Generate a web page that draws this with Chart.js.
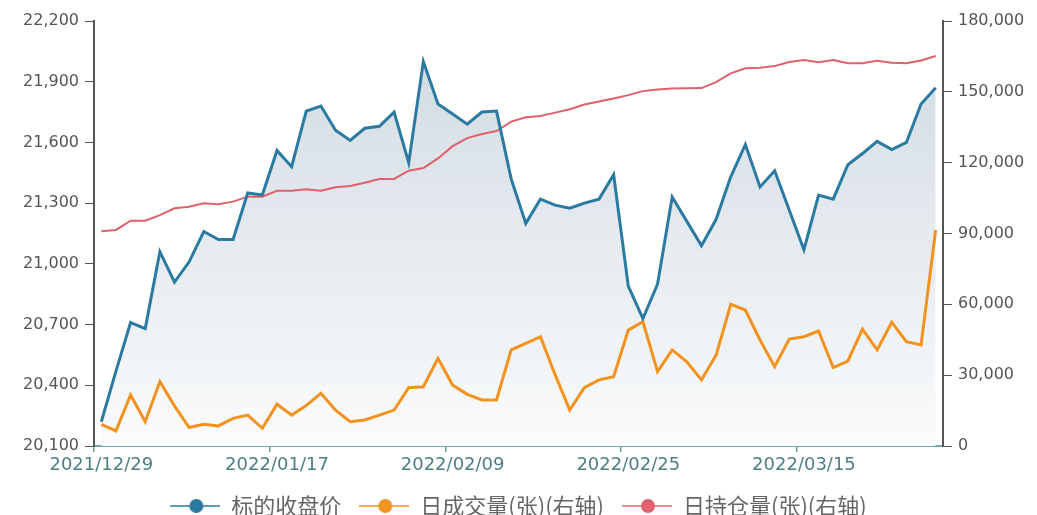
<!DOCTYPE html>
<html>
<head>
<meta charset="utf-8">
<script src="https://cdn.jsdelivr.net/npm/chart.js@4.4.1/dist/chart.umd.min.js"></script>
<style>
    html, body { margin: 0; padding: 0; background: #fff; overflow: hidden; }
    #wrap { position: relative; width: 1037px; height: 527px; }
</style>
</head>
<body>
<div id="wrap"><canvas id="futuresChart"></canvas></div>
<script>
// Trading days, close price and daily volume / open interest (lots)
const tradeDates = [
    '2021/12/29', '2021/12/30', '2021/12/31', '2022/01/04', '2022/01/05', '2022/01/06', '2022/01/07',
    '2022/01/10', '2022/01/11', '2022/01/12', '2022/01/13', '2022/01/14', '2022/01/17', '2022/01/18',
    '2022/01/19', '2022/01/20', '2022/01/21', '2022/01/24', '2022/01/25', '2022/01/26', '2022/01/27',
    '2022/01/28', '2022/02/07', '2022/02/08', '2022/02/09', '2022/02/10', '2022/02/11', '2022/02/14',
    '2022/02/15', '2022/02/16', '2022/02/17', '2022/02/18', '2022/02/21', '2022/02/22', '2022/02/23',
    '2022/02/24', '2022/02/25', '2022/02/28', '2022/03/01', '2022/03/02', '2022/03/03', '2022/03/04',
    '2022/03/07', '2022/03/08', '2022/03/09', '2022/03/10', '2022/03/11', '2022/03/14', '2022/03/15',
    '2022/03/16', '2022/03/17', '2022/03/18', '2022/03/21', '2022/03/22', '2022/03/23', '2022/03/24',
    '2022/03/25', '2022/03/28'
];

const closePrice = [
    20220, 20470, 20710, 20680, 21060, 20910, 21010, 21160, 21120, 21120,
    21350, 21340, 21560, 21480, 21755, 21780, 21660, 21610, 21670, 21680,
    21750, 21500, 22000, 21790, 21740, 21690, 21750, 21755, 21420, 21200,
    21320, 21290, 21275, 21300, 21320, 21440, 20890, 20730, 20900, 21330,
    21210, 21090, 21220, 21430, 21590, 21380, 21460, 21265, 21070, 21340,
    21320, 21490, 21545, 21605, 21565, 21600, 21790, 21870
];

const dailyVolume = [
    9200, 6400, 21600, 10300, 27200, 17000, 7800, 9200, 8500, 11700,
    13100, 7500, 17700, 13100, 17100, 22300, 15200, 10300, 11000, 13100,
    15200, 24700, 25100, 37100, 25800, 21900, 19500, 19500, 40700, 43500,
    46300, 30200, 15200, 24700, 28000, 29300, 49100, 52600, 31500, 40700,
    35700, 28000, 38500, 60000, 57600, 44900, 33600, 45300, 46300, 48700,
    33200, 36000, 49500, 40700, 52400, 44200, 42800, 91500
];

const openInterest = [
    91000, 91500, 95400, 95400, 97800, 100700, 101300, 102800, 102400, 103500,
    105600, 105600, 108100, 108100, 108700, 108100, 109600, 110100, 111500, 113100,
    113100, 116600, 117700, 121800, 127000, 130400, 132100, 133400, 137400, 139200,
    139800, 141200, 142600, 144600, 145900, 147200, 148600, 150300, 151000, 151400,
    151500, 151600, 154100, 157800, 160000, 160200, 160900, 162600, 163500, 162500,
    163500, 162100, 162100, 163200, 162300, 162100, 163300, 165200
];

const seriesNames = ['标的收盘价', '日成交量(张)(右轴)', '日持仓量(张)(右轴)'];
const seriesColors = ['#2b7aa1', '#f2921f', '#e0606b'];

// axis ranges and tick steps
const priceRange = [20100, 22200];
const priceStep = 300;
const lotsRange = [0, 180000];
const lotsStep = 30000;
const dateLabelEvery = 12;

const axisFont = { family: 'DejaVu Sans', size: 16 };

// line + dot marker used in the legend
function legendMarker(color) {
    const c = document.createElement('canvas');
    c.width = 50;
    c.height = 16;
    const g = c.getContext('2d');
    g.strokeStyle = color;
    g.globalAlpha = 0.75;
    g.lineWidth = 2;
    g.beginPath();
    g.moveTo(0, 8);
    g.lineTo(50, 8);
    g.stroke();
    g.globalAlpha = 1;
    g.fillStyle = color;
    g.beginPath();
    g.arc(26, 8, 7, 0, Math.PI * 2);
    g.fill();
    return c;
}

function priceFill(ctx) {
    const area = ctx.chart.chartArea;
    if (!area) return '#e3e8ec';
    const g = ctx.chart.ctx.createLinearGradient(0, area.top, 0, area.bottom);
    g.addColorStop(0, '#cfd9e1');
    g.addColorStop(1, '#fafbfc');
    return g;
}

function createFuturesChart() {
    const el = document.getElementById('futuresChart');
    if (!el) return;
    const markers = seriesColors.map(legendMarker);

    new Chart(el, {
        type: 'line',
        data: {
            labels: tradeDates,
            datasets: [{
                label: seriesNames[0],
                data: closePrice,
                yAxisID: 'y',
                borderColor: seriesColors[0],
                borderWidth: 3,
                backgroundColor: priceFill,
                fill: 'start',
                pointRadius: 0,
                pointHoverRadius: 0,
                tension: 0
            }, {
                label: seriesNames[1],
                data: dailyVolume,
                yAxisID: 'y1',
                borderColor: seriesColors[1],
                backgroundColor: seriesColors[1],
                borderWidth: 3,
                fill: false,
                pointRadius: 0,
                pointHoverRadius: 0,
                tension: 0
            }, {
                label: seriesNames[2],
                data: openInterest,
                yAxisID: 'y1',
                borderColor: seriesColors[2],
                backgroundColor: seriesColors[2],
                borderWidth: 2,
                fill: false,
                pointRadius: 0,
                pointHoverRadius: 0,
                tension: 0
            }]
        },
        options: {
            responsive: true,
            maintainAspectRatio: false,
            animation: false,
            layout: {
                padding: { top: 21, left: 0, right: 0, bottom: 0 }
            },
            plugins: {
                filler: { drawTime: 'beforeDatasetsDraw' },
                tooltip: { enabled: false },
                legend: {
                    position: 'bottom',
                    labels: {
                        usePointStyle: true,
                        pointStyleWidth: 50,
                        padding: 18,
                        color: '#666',
                        font: { family: 'Noto Sans CJK SC', size: 22 },
                        generateLabels(chart) {
                            const items = Chart.defaults.plugins.legend.labels.generateLabels(chart);
                            items.forEach((item, i) => { item.pointStyle = markers[i]; });
                            return items;
                        }
                    }
                }
            },
            scales: {
                x: {
                    type: 'category',
                    offset: true,
                    grid: {
                        offset: true,
                        drawOnChartArea: false,
                        tickLength: 6,
                        lineWidth: 1.5,
                        color: ctx => ctx.index % dateLabelEvery === 0 ? '#6e9ea6' : 'rgba(0,0,0,0)'
                    },
                    border: { color: '#74a4ac', width: 2 },
                    ticks: {
                        autoSkip: false,
                        maxRotation: 0,
                        padding: 3,
                        color: '#4d7f87',
                        font: { family: 'DejaVu Sans', size: 18 },
                        callback(v, i) {
                            return i % dateLabelEvery === 0 ? tradeDates[i] : '';
                        }
                    },
                    afterFit(s) { s.height = 31; }
                },
                y: {
                    position: 'left',
                    min: priceRange[0],
                    max: priceRange[1],
                    grid: { drawOnChartArea: false, tickLength: 9, color: '#555' },
                    border: { color: '#555', width: 2 },
                    ticks: {
                        stepSize: priceStep,
                        padding: 6,
                        color: '#555',
                        font: axisFont,
                        callback: v => v.toLocaleString('en-US')
                    },
                    afterFit(s) { s.width = 94; }
                },
                y1: {
                    position: 'right',
                    min: lotsRange[0],
                    max: lotsRange[1],
                    grid: { drawOnChartArea: false, tickLength: 9, color: '#555' },
                    border: { color: '#555', width: 2 },
                    ticks: {
                        stepSize: lotsStep,
                        padding: 6,
                        color: '#555',
                        font: axisFont,
                        callback: v => v.toLocaleString('en-US')
                    },
                    afterFit(s) { s.width = 94; }
                }
            }
        }
    });
}

createFuturesChart();
</script>
</body>
</html>
